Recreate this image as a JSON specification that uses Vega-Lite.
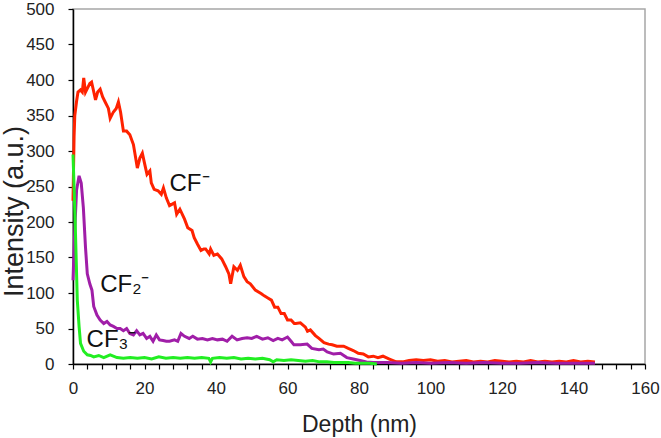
{
  "$schema": "https://vega.github.io/schema/vega-lite/v6.json",
  "width": 572,
  "height": 355,
  "autosize": {"type": "none"},
  "padding": {"left": 73, "top": 9, "right": 16, "bottom": 74},
  "background": "white",
  "config": {
    "view": {"stroke": "#a6a6a6", "strokeWidth": 1.5},
    "font": "Liberation Sans",
    "axis": {
      "grid": false,
      "domainColor": "#000000",
      "domainWidth": 1.5,
      "tickColor": "#000000",
      "tickWidth": 1.2,
      "tickSize": 5,
      "labelFont": "Liberation Sans",
      "labelFontSize": 17,
      "labelColor": "#222222",
      "labelOverlap": false,
      "labelFlush": false,
      "titleFont": "Liberation Sans",
      "titleFontWeight": "normal",
      "titleColor": "#222222"
    }
  },
  "datasets": {
    "series": [
      {"s":"CF","x":0,"y":230},{"s":"CF","x":0.3,"y":320},{"s":"CF","x":0.5,"y":350},{"s":"CF","x":1,"y":370},{"s":"CF","x":1.4,"y":383},{"s":"CF","x":2.1,"y":386},{"s":"CF","x":2.6,"y":383},{"s":"CF","x":3.0,"y":403},{"s":"CF","x":3.5,"y":383},{"s":"CF","x":4.1,"y":389},{"s":"CF","x":4.7,"y":395},{"s":"CF","x":5.2,"y":397},{"s":"CF","x":5.6,"y":388},{"s":"CF","x":6.3,"y":372},{"s":"CF","x":6.9,"y":383},{"s":"CF","x":7.6,"y":387},{"s":"CF","x":8.3,"y":376},{"s":"CF","x":9.0,"y":369},{"s":"CF","x":9.9,"y":360},{"s":"CF","x":10.4,"y":346},{"s":"CF","x":11.3,"y":355},{"s":"CF","x":12.1,"y":360},{"s":"CF","x":12.7,"y":369},{"s":"CF","x":13.3,"y":355},{"s":"CF","x":14.1,"y":328},{"s":"CF","x":15.0,"y":328},{"s":"CF","x":15.9,"y":323},{"s":"CF","x":16.9,"y":309},{"s":"CF","x":18.0,"y":276},{"s":"CF","x":18.7,"y":290},{"s":"CF","x":19.4,"y":297},{"s":"CF","x":20.0,"y":283},{"s":"CF","x":20.7,"y":267},{"s":"CF","x":21.5,"y":272},{"s":"CF","x":21.9,"y":255},{"s":"CF","x":22.7,"y":246},{"s":"CF","x":23.8,"y":244},{"s":"CF","x":24.7,"y":239},{"s":"CF","x":25.3,"y":248},{"s":"CF","x":26.1,"y":234},{"s":"CF","x":27.0,"y":223},{"s":"CF","x":28.4,"y":227},{"s":"CF","x":29.0,"y":211},{"s":"CF","x":29.9,"y":218},{"s":"CF","x":31.2,"y":204},{"s":"CF","x":32.1,"y":192},{"s":"CF","x":33.3,"y":188},{"s":"CF","x":33.9,"y":178},{"s":"CF","x":34.8,"y":169},{"s":"CF","x":35.8,"y":160},{"s":"CF","x":36.6,"y":162},{"s":"CF","x":37.1,"y":162},{"s":"CF","x":38.1,"y":155},{"s":"CF","x":38.5,"y":162},{"s":"CF","x":39.4,"y":153},{"s":"CF","x":40.4,"y":155},{"s":"CF","x":41.6,"y":148},{"s":"CF","x":42.7,"y":137},{"s":"CF","x":43.6,"y":127},{"s":"CF","x":44.1,"y":113},{"s":"CF","x":45.0,"y":137},{"s":"CF","x":46.0,"y":132},{"s":"CF","x":46.8,"y":139},{"s":"CF","x":47.8,"y":123},{"s":"CF","x":48.7,"y":116},{"s":"CF","x":49.6,"y":113},{"s":"CF","x":51.0,"y":104},{"s":"CF","x":52.7,"y":99},{"s":"CF","x":53.5,"y":96},{"s":"CF","x":54.5,"y":93},{"s":"CF","x":55.5,"y":90},{"s":"CF","x":56.4,"y":80},{"s":"CF","x":57.3,"y":80},{"s":"CF","x":58.2,"y":71},{"s":"CF","x":59.1,"y":71},{"s":"CF","x":60,"y":62},{"s":"CF","x":61,"y":62},{"s":"CF","x":61.9,"y":57},{"s":"CF","x":62.3,"y":57},{"s":"CF","x":63.6,"y":58},{"s":"CF","x":65,"y":52},{"s":"CF","x":65.6,"y":46},{"s":"CF","x":66.4,"y":48},{"s":"CF","x":67.8,"y":40},{"s":"CF","x":68.8,"y":36},{"s":"CF","x":70.2,"y":30},{"s":"CF","x":71.5,"y":28},{"s":"CF","x":72.5,"y":27},{"s":"CF","x":73.8,"y":25},{"s":"CF","x":75.7,"y":25},{"s":"CF","x":77,"y":22},{"s":"CF","x":78.4,"y":19},{"s":"CF","x":79.8,"y":15},{"s":"CF","x":81.2,"y":14},{"s":"CF","x":82.6,"y":10},{"s":"CF","x":84,"y":11},{"s":"CF","x":85.3,"y":9},{"s":"CF","x":86.7,"y":11},{"s":"CF","x":88.5,"y":7},{"s":"CF","x":90.4,"y":3},{"s":"CF","x":92.2,"y":3},{"s":"CF","x":94,"y":5},{"s":"CF","x":96,"y":6},{"s":"CF","x":98,"y":5},{"s":"CF","x":100,"y":6},{"s":"CF","x":102,"y":4},{"s":"CF","x":104,"y":5},{"s":"CF","x":106,"y":3},{"s":"CF","x":108,"y":4},{"s":"CF","x":110,"y":5},{"s":"CF","x":112,"y":3},{"s":"CF","x":114,"y":4},{"s":"CF","x":116,"y":3},{"s":"CF","x":118,"y":5},{"s":"CF","x":120,"y":4},{"s":"CF","x":122,"y":3},{"s":"CF","x":124,"y":4},{"s":"CF","x":126,"y":3},{"s":"CF","x":128,"y":5},{"s":"CF","x":130,"y":3},{"s":"CF","x":132,"y":4},{"s":"CF","x":134,"y":3},{"s":"CF","x":136,"y":4},{"s":"CF","x":138,"y":3},{"s":"CF","x":140,"y":5},{"s":"CF","x":142,"y":3},{"s":"CF","x":144,"y":4},{"s":"CF","x":146,"y":3},
      {"s":"CF2","x":0,"y":118},{"s":"CF2","x":0.5,"y":190},{"s":"CF2","x":1,"y":245},{"s":"CF2","x":1.7,"y":265},{"s":"CF2","x":2.3,"y":255},{"s":"CF2","x":2.9,"y":220},{"s":"CF2","x":3.5,"y":164},{"s":"CF2","x":4.0,"y":127},{"s":"CF2","x":4.7,"y":113},{"s":"CF2","x":5.3,"y":104},{"s":"CF2","x":5.8,"y":81},{"s":"CF2","x":6.7,"y":69},{"s":"CF2","x":7.6,"y":62},{"s":"CF2","x":8.6,"y":57},{"s":"CF2","x":9.5,"y":60},{"s":"CF2","x":10.4,"y":55},{"s":"CF2","x":11.3,"y":53},{"s":"CF2","x":12.3,"y":50},{"s":"CF2","x":13.2,"y":50},{"s":"CF2","x":14.1,"y":47},{"s":"CF2","x":15,"y":50},{"s":"CF2","x":15.9,"y":43},{"s":"CF2","x":16.9,"y":41},{"s":"CF2","x":17.8,"y":47},{"s":"CF2","x":18.7,"y":41},{"s":"CF2","x":19.6,"y":43},{"s":"CF2","x":20.6,"y":36},{"s":"CF2","x":21.5,"y":39},{"s":"CF2","x":22.4,"y":32},{"s":"CF2","x":23.3,"y":41},{"s":"CF2","x":24.2,"y":34},{"s":"CF2","x":25.2,"y":33},{"s":"CF2","x":26.1,"y":32},{"s":"CF2","x":27,"y":32},{"s":"CF2","x":28.4,"y":34},{"s":"CF2","x":29.3,"y":32},{"s":"CF2","x":30.2,"y":43},{"s":"CF2","x":31.2,"y":39},{"s":"CF2","x":32.5,"y":36},{"s":"CF2","x":33.5,"y":39},{"s":"CF2","x":34.8,"y":35},{"s":"CF2","x":36.2,"y":36},{"s":"CF2","x":37.6,"y":34},{"s":"CF2","x":39,"y":36},{"s":"CF2","x":40.4,"y":34},{"s":"CF2","x":41.8,"y":35},{"s":"CF2","x":43.1,"y":32},{"s":"CF2","x":44.5,"y":39},{"s":"CF2","x":45.9,"y":34},{"s":"CF2","x":47.3,"y":36},{"s":"CF2","x":48.7,"y":37},{"s":"CF2","x":50,"y":36},{"s":"CF2","x":51.4,"y":39},{"s":"CF2","x":53,"y":35},{"s":"CF2","x":54.5,"y":37},{"s":"CF2","x":56,"y":33},{"s":"CF2","x":57.3,"y":36},{"s":"CF2","x":58.5,"y":34},{"s":"CF2","x":60,"y":38},{"s":"CF2","x":61,"y":32},{"s":"CF2","x":61.8,"y":27},{"s":"CF2","x":63.6,"y":27},{"s":"CF2","x":65.5,"y":28},{"s":"CF2","x":66.8,"y":22},{"s":"CF2","x":68.8,"y":20},{"s":"CF2","x":70,"y":21},{"s":"CF2","x":71.1,"y":17},{"s":"CF2","x":72.9,"y":14},{"s":"CF2","x":74.8,"y":15},{"s":"CF2","x":76.6,"y":9},{"s":"CF2","x":78.4,"y":7},{"s":"CF2","x":80.3,"y":5},{"s":"CF2","x":82.1,"y":3},{"s":"CF2","x":84,"y":2},{"s":"CF2","x":88,"y":2},{"s":"CF2","x":92,"y":1},{"s":"CF2","x":96,"y":2},{"s":"CF2","x":100,"y":1},{"s":"CF2","x":105,"y":2},{"s":"CF2","x":110,"y":1},{"s":"CF2","x":115,"y":2},{"s":"CF2","x":120,"y":1},{"s":"CF2","x":125,"y":1},{"s":"CF2","x":130,"y":2},{"s":"CF2","x":135,"y":1},{"s":"CF2","x":140,"y":1},{"s":"CF2","x":146,"y":1},
      {"s":"CF3","x":0,"y":295},{"s":"CF3","x":0.3,"y":250},{"s":"CF3","x":0.7,"y":183},{"s":"CF3","x":1.2,"y":90},{"s":"CF3","x":1.7,"y":53},{"s":"CF3","x":2.1,"y":29},{"s":"CF3","x":3,"y":18},{"s":"CF3","x":4,"y":13},{"s":"CF3","x":4.9,"y":12},{"s":"CF3","x":5.8,"y":10},{"s":"CF3","x":7.2,"y":12},{"s":"CF3","x":8.6,"y":9},{"s":"CF3","x":10.4,"y":13},{"s":"CF3","x":12.3,"y":9},{"s":"CF3","x":14.1,"y":8},{"s":"CF3","x":16,"y":9},{"s":"CF3","x":18,"y":8},{"s":"CF3","x":20,"y":9},{"s":"CF3","x":22,"y":7},{"s":"CF3","x":24,"y":10},{"s":"CF3","x":26,"y":8},{"s":"CF3","x":28,"y":9},{"s":"CF3","x":30,"y":8},{"s":"CF3","x":32,"y":9},{"s":"CF3","x":34,"y":8},{"s":"CF3","x":36,"y":9},{"s":"CF3","x":38,"y":8},{"s":"CF3","x":38.5,"y":3},{"s":"CF3","x":39,"y":8},{"s":"CF3","x":41,"y":9},{"s":"CF3","x":43,"y":8},{"s":"CF3","x":45,"y":9},{"s":"CF3","x":47,"y":7},{"s":"CF3","x":49,"y":8},{"s":"CF3","x":51,"y":7},{"s":"CF3","x":53,"y":8},{"s":"CF3","x":55,"y":6},{"s":"CF3","x":56,"y":3},{"s":"CF3","x":57,"y":6},{"s":"CF3","x":59,"y":5},{"s":"CF3","x":61,"y":6},{"s":"CF3","x":63,"y":5},{"s":"CF3","x":65,"y":4},{"s":"CF3","x":67,"y":5},{"s":"CF3","x":69,"y":3},{"s":"CF3","x":71,"y":3},{"s":"CF3","x":73,"y":2},{"s":"CF3","x":75,"y":2},{"s":"CF3","x":77,"y":2},{"s":"CF3","x":79,"y":1},{"s":"CF3","x":81,"y":1},{"s":"CF3","x":83,"y":1},{"s":"CF3","x":85,"y":0}
    ],
    "labels": [
      {"t":"CF⁻","x":27,"y":253},
      {"t":"CF₂⁻","x":7.6,"y":111},
      {"t":"CF₃⁻","x":3.8,"y":34}
    ]
  },
  "layer": [
    {
      "data": {"name": "series"},
      "mark": {"type": "line", "strokeWidth": 3, "interpolate": "linear"},
      "encoding": {
        "x": {
          "field": "x", "type": "quantitative",
          "scale": {"domain": [0, 160], "nice": false},
          "axis": {
            "title": "Depth (nm)",
            "values": [0,4,8,12,16,20,24,28,32,36,40,44,48,52,56,60,64,68,72,76,80,84,88,92,96,100,104,108,112,116,120,124,128,132,136,140,144,148,152,156,160],
            "tickCount": 200,
            "labelExpr": "datum.value % 20 === 0 ? datum.label : ''",
            "labelPadding": 11,
            "titleFontSize": 23,
            "titleBaseline": "alphabetic",
            "titleY": 67
          }
        },
        "y": {
          "field": "y", "type": "quantitative",
          "scale": {"domain": [0, 500], "nice": false},
          "axis": {
            "title": "Intensity (a.u.)",
            "values": [0,50,100,150,200,250,300,350,400,450,500],
            "tickCount": 200,
            "labelPadding": 14,
            "titleFontSize": 27,
            "titleBaseline": "alphabetic",
            "titleX": -51,
            "titleY": 202
          }
        },
        "color": {
          "field": "s", "type": "nominal",
          "scale": {"domain": ["CF","CF2","CF3"], "range": ["#ff2200","#a01ea8","#22ee22"]},
          "legend": null
        },
        "order": {"field": "x", "type": "quantitative"}
      }
    },
    {
      "data": {"name": "labels"},
      "mark": {"type": "text", "align": "left", "baseline": "middle", "fontSize": 24, "font": "Liberation Sans", "color": "#111111"},
      "encoding": {
        "x": {"field": "x", "type": "quantitative"},
        "y": {"field": "y", "type": "quantitative"},
        "text": {"field": "t"}
      }
    }
  ]
}
